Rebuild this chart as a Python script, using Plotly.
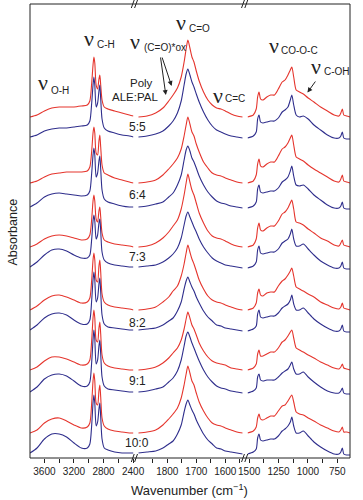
import plotly.graph_objects as go

# ---------------- data ----------------
SAMPLES = ["5:5", "6:4", "7:3", "8:2", "9:1", "10:0"]

# stacking offsets (vertical shift of each spectrum)
RED_OFFSET = [341, 275, 211, 148, 88, 25]
BLUE_OFFSET = [321, 251, 191, 128, 66, 5]

# panel 1 : 3795 - 2395 cm-1
WN_P1 = [3795, 3700, 3600, 3500, 3400, 3300, 3200, 3100, 3020, 2985, 2960, 2942, 2930,
         2918, 2900, 2880, 2862, 2850, 2838, 2820, 2790, 2740, 2650, 2550, 2450, 2395]
RED_P1 = [
    [0, 2, 6, 9, 10, 10, 10, 11, 12, 16, 34, 52, 60, 54, 32, 28, 38, 42, 32, 17, 10, 8, 6, 4, 2, 1],
    [0, 2, 6, 9, 10, 11, 11, 11, 12, 16, 32, 50, 56, 50, 30, 28, 42, 48, 36, 18, 10, 8, 5, 3, 1, 0],
    [0, 3, 8, 11, 12, 11, 9, 7, 8, 12, 28, 46, 52, 46, 28, 25, 36, 40, 30, 14, 7, 5, 3, 2, 1, 0],
    [0, 4, 10, 14, 15, 13, 10, 7, 8, 12, 30, 50, 57, 50, 30, 28, 44, 50, 38, 16, 8, 5, 3, 2, 1, 0],
    [0, 3, 9, 13, 13, 11, 8, 5, 6, 10, 30, 52, 60, 52, 30, 28, 42, 48, 36, 15, 7, 4, 2, 1, 0, 0],
    [0, 3, 10, 14, 15, 12, 8, 5, 6, 10, 30, 52, 60, 52, 30, 28, 42, 48, 36, 15, 7, 4, 2, 1, 0, 0],
]
BLUE_P1 = [
    [0, 2, 6, 8, 9, 9, 10, 11, 12, 16, 34, 52, 60, 52, 30, 34, 46, 52, 38, 18, 9, 6, 4, 2, 1, 0],
    [0, 4, 10, 13, 14, 13, 12, 11, 12, 16, 34, 52, 59, 52, 30, 34, 46, 51, 38, 17, 8, 5, 3, 1, 0, 0],
    [0, 5, 12, 17, 18, 16, 12, 9, 9, 12, 28, 46, 52, 46, 28, 32, 44, 48, 36, 15, 7, 4, 2, 1, 0, 0],
    [0, 5, 12, 16, 17, 15, 10, 6, 6, 10, 30, 50, 58, 50, 28, 32, 46, 52, 38, 15, 6, 3, 2, 1, 0, 0],
    [0, 5, 13, 17, 18, 16, 11, 6, 6, 10, 30, 52, 62, 53, 28, 32, 46, 52, 38, 15, 6, 3, 2, 1, 0, 0],
    [0, 5, 14, 19, 19, 16, 10, 5, 5, 9, 28, 50, 58, 50, 27, 31, 44, 50, 36, 14, 5, 3, 1, 0, 0, 0],
]

# panel 2 : 1900 - 1540 cm-1
WN_P2 = [1900, 1870, 1840, 1815, 1795, 1780, 1765, 1752, 1742, 1735, 1729, 1722, 1715,
         1708, 1700, 1690, 1675, 1660, 1645, 1630, 1615, 1600, 1580, 1560, 1540]
RED_P2 = [
    [0, 1, 4, 9, 16, 22, 29, 40, 55, 68, 77, 69, 60, 55, 46, 36, 25, 17, 12, 9, 8, 6, 3, 1, 0],
    [0, 1, 3, 8, 14, 19, 25, 34, 47, 58, 66, 59, 51, 47, 39, 31, 21, 15, 10, 8, 7, 5, 3, 1, 0],
    [0, 1, 4, 9, 15, 21, 27, 38, 52, 64, 73, 65, 57, 52, 44, 34, 24, 16, 11, 9, 8, 6, 3, 1, 0],
    [0, 1, 3, 8, 13, 19, 24, 34, 46, 57, 65, 58, 51, 46, 39, 30, 21, 14, 10, 8, 7, 5, 3, 1, 0],
    [0, 1, 3, 7, 12, 17, 22, 30, 41, 51, 58, 52, 45, 41, 35, 27, 19, 13, 9, 7, 6, 5, 2, 1, 0],
    [0, 1, 3, 8, 14, 19, 25, 35, 48, 59, 67, 60, 52, 48, 40, 31, 22, 15, 10, 8, 7, 5, 3, 1, 0],
]
BLUE_P2 = [
    [0, 1, 3, 6, 11, 16, 24, 36, 52, 63, 68, 62, 55, 50, 43, 35, 25, 17, 11, 7, 5, 3, 1, 0, -1],
    [0, 1, 3, 5, 10, 14, 22, 32, 47, 57, 61, 56, 49, 45, 39, 31, 22, 15, 10, 6, 4, 3, 1, 0, -1],
    [0, 1, 2, 5, 9, 13, 19, 29, 42, 51, 55, 50, 45, 40, 35, 28, 20, 14, 9, 6, 4, 2, 1, 0, -1],
    [0, 1, 2, 5, 9, 12, 19, 28, 41, 49, 53, 48, 43, 39, 33, 27, 19, 13, 9, 5, 4, 2, 1, 0, -1],
    [0, 1, 3, 5, 10, 14, 21, 32, 46, 56, 60, 55, 49, 44, 38, 31, 22, 15, 10, 6, 4, 3, 1, 0, -1],
    [0, 1, 2, 5, 9, 12, 19, 28, 41, 49, 53, 48, 43, 39, 33, 27, 19, 13, 9, 5, 4, 2, 1, 0, -1],
]

# panel 3 : 1514 - 642 cm-1
WN_P3 = [1514, 1465, 1440, 1428, 1416, 1403, 1383, 1350, 1317, 1285, 1252, 1219, 1195, 1170,
         1150, 1137, 1121, 1100, 1072, 1039, 998, 949, 892, 834, 777, 736, 720, 707, 695, 671, 642]
RED_P3 = [
    [0, 2, 8, 20, 25, 18, 17, 20, 22, 22, 28, 35, 37, 42, 47, 50, 40, 27, 25, 23, 19, 15, 10, 6, 2, 1, 4, 8, 2, 1, 0],
    [0, 2, 8, 19, 24, 17, 16, 19, 21, 21, 27, 34, 36, 40, 45, 48, 38, 26, 24, 22, 18, 14, 10, 6, 2, 1, 4, 8, 2, 1, 0],
    [0, 2, 8, 19, 24, 17, 16, 19, 21, 21, 26, 33, 35, 39, 44, 47, 38, 25, 24, 22, 18, 14, 9, 6, 2, 1, 4, 7, 2, 1, 0],
    [0, 2, 7, 17, 21, 15, 14, 17, 18, 18, 24, 29, 31, 35, 39, 42, 34, 23, 21, 19, 16, 13, 8, 5, 2, 1, 3, 7, 2, 1, 0],
    [0, 2, 6, 16, 20, 14, 14, 16, 18, 18, 22, 28, 30, 34, 38, 40, 32, 22, 20, 18, 15, 12, 8, 5, 2, 1, 3, 6, 2, 1, 0],
    [0, 2, 6, 15, 19, 14, 13, 15, 17, 17, 22, 27, 28, 32, 36, 38, 31, 21, 19, 18, 15, 12, 8, 5, 2, 1, 3, 6, 1, 1, 0],
]
BLUE_P3 = [
    [-1, 1, 5, 18, 22, 15, 14, 15, 16, 16, 19, 25, 27, 30, 37, 42, 32, 22, 20, 21, 18, 12, 7, 2, -1, -1, 1, 5, -1, -2, -2],
    [-1, 1, 5, 18, 22, 15, 14, 15, 16, 16, 19, 25, 27, 30, 36, 41, 31, 22, 21, 22, 18, 12, 7, 2, -1, -1, 1, 5, -1, -2, -2],
    [-1, 1, 5, 17, 21, 14, 13, 14, 15, 15, 18, 24, 26, 28, 33, 38, 28, 21, 21, 23, 18, 12, 6, 2, -1, -1, 1, 5, -1, -2, -2],
    [-1, 1, 4, 16, 20, 13, 12, 13, 14, 14, 17, 22, 24, 26, 30, 35, 26, 20, 20, 22, 17, 11, 6, 2, -1, -1, 1, 5, -1, -2, -2],
    [-1, 1, 4, 15, 18, 12, 11, 12, 12, 12, 15, 19, 21, 23, 27, 30, 23, 18, 18, 20, 15, 10, 5, 1, -1, -1, 1, 4, -1, -2, -2],
    [-1, 1, 4, 15, 19, 13, 12, 13, 14, 14, 17, 22, 24, 27, 31, 36, 27, 20, 20, 22, 17, 11, 6, 2, -1, -1, 1, 5, -1, -2, -2],
]

# tick positions (labelled + unlabelled) per panel
TICKS_P1 = [3600, 3400, 3200, 3000, 2800, 2600, 2400]
LABELS_P1 = ["3600", "", "3200", "", "2800", "", "2400"]
TICKS_P2 = [1850, 1800, 1750, 1700, 1650, 1600, 1550]
LABELS_P2 = ["", "1800", "", "1700", "", "1600", ""]
TICKS_P3 = [1500, 1375, 1250, 1125, 1000, 875, 750]
LABELS_P3 = ["1500", "", "1250", "", "1000", "", "750"]

RANGE_P1 = [3795, 2395]
RANGE_P2 = [1900, 1540]
RANGE_P3 = [1514, 642]

RED = "#e5352d"
BLUE = "#2f2e8c"

# ---------------- figure ----------------
W, H = 363, 500
ML, MR, MT, MB = 30, 2, 4, 42
PW, PH = W - ML - MR, H - MT - MB


def px(x):
    return (x - ML) / PW


def py(y):
    return (H - MB - y) / PH


fig = go.Figure()

panels = [
    ("x", WN_P1, RED_P1, BLUE_P1),
    ("x2", WN_P2, RED_P2, BLUE_P2),
    ("x3", WN_P3, RED_P3, BLUE_P3),
]
for xa, wn, reds, blues in panels:
    for i in range(len(SAMPLES)):
        for vals, offs, col in ((reds[i], RED_OFFSET[i], RED), (blues[i], BLUE_OFFSET[i], BLUE)):
            fig.add_trace(go.Scatter(
                x=wn, y=[v + offs for v in vals], xaxis=xa, yaxis="y",
                mode="lines", line=dict(color=col, width=1.1, shape="spline", smoothing=0.7),
                showlegend=False, hoverinfo="skip"))

tickfont = dict(family="Liberation Sans, Arial", size=10, color="#222")
common = dict(showgrid=False, zeroline=False, showline=False, ticks="outside", ticklen=4,
              tickwidth=1, tickcolor="#222", tickfont=tickfont, anchor="y", tickmode="array")

fig.update_layout(
    width=W, height=H, margin=dict(l=ML, r=MR, t=MT, b=MB),
    paper_bgcolor="white", plot_bgcolor="white",
    xaxis=dict(domain=[0, px(137)], range=RANGE_P1, tickvals=TICKS_P1, ticktext=LABELS_P1, **common),
    xaxis2=dict(domain=[px(142), px(250)], range=RANGE_P2, tickvals=TICKS_P2, ticktext=LABELS_P2, **common),
    xaxis3=dict(domain=[px(255), 1], range=RANGE_P3, tickvals=TICKS_P3, ticktext=LABELS_P3, **common),
    yaxis=dict(range=[0, PH], showticklabels=False, showgrid=False, zeroline=False, ticks=""),
)

shapes = []
# frame
shapes.append(dict(type="rect", xref="paper", yref="paper", x0=0, x1=1, y0=0, y1=1,
                   line=dict(color="#222", width=1)))
# axis break marks
for bx in (138.5, 252.5):
    for by in (MT, H - MB):
        for dx in (-2.2, 1.2):
            shapes.append(dict(type="line", xref="paper", yref="paper",
                               x0=px(bx + dx - 1.5), y0=py(by + 4), x1=px(bx + dx + 1.5), y1=py(by - 4),
                               line=dict(color="#222", width=1)))
# arrows for annotations (tail pixel -> head pixel)
arrow_lines = [((165, 56), (170.5, 95)), ((166.5, 56), (176.5, 86)), ((326, 80), (317, 92.5))]
annotations = []
for (x0, y0), (x1, y1) in arrow_lines:
    annotations.append(dict(xref="paper", yref="paper", x=px(x1), y=py(y1),
                            ax=x0 - x1, ay=y0 - y1, axref="pixel", ayref="pixel",
                            showarrow=True, arrowhead=2, arrowsize=1,
                            arrowwidth=1, arrowcolor="#222", text=""))

sans = "Liberation Sans, Arial"
serif = "Liberation Serif, Times New Roman"

nu_labels = [
    # (nu center x, nu center y, subscript, sub left x, sub center y)
    (43, 82, "O-H", 50, 90),
    (91, 38, "C-H", 97, 44),
    (139, 42, "(C=O)*ox", 146, 48),
    (186, 23, "C=O", 192, 29),
    (224, 95, "C=C", 230, 99),
    (282, 45, "CO-O-C", 288, 50),
    (326, 67, "C-OH", 332, 71),
]
for nx, ny, sub, sx, sy in nu_labels:
    annotations.append(dict(xref="paper", yref="paper", x=px(nx), y=py(ny), text="ν",
                            showarrow=False, xanchor="center", yanchor="middle",
                            font=dict(family=serif, size=22, color="#222")))
    annotations.append(dict(xref="paper", yref="paper", x=px(sx), y=py(sy), text=sub,
                            showarrow=False, xanchor="left", yanchor="middle",
                            font=dict(family=sans, size=10, color="#222")))

# sample labels
label_y = [127, 195, 257, 323, 381, 443]
for s, ly in zip(SAMPLES, label_y):
    annotations.append(dict(xref="paper", yref="paper", x=px(141), y=py(ly), text=s,
                            showarrow=False, xanchor="center", yanchor="middle",
                            font=dict(family=sans, size=12, color="#222")))
annotations.append(dict(xref="paper", yref="paper", x=px(145), y=py(83), text="Poly",
                        showarrow=False, xanchor="center", yanchor="middle",
                        font=dict(family=sans, size=11.5, color="#222")))
annotations.append(dict(xref="paper", yref="paper", x=px(139), y=py(97), text="ALE:PAL",
                        showarrow=False, xanchor="center", yanchor="middle",
                        font=dict(family=sans, size=11.5, color="#222")))
# axis titles
annotations.append(dict(xref="paper", yref="paper", x=px(195), y=py(490),
                        text="Wavenumber (cm<sup>−1</sup>)", showarrow=False,
                        xanchor="center", yanchor="middle",
                        font=dict(family=sans, size=13, color="#222")))
annotations.append(dict(xref="paper", yref="paper", x=px(12), y=py(232), text="Absorbance",
                        textangle=-90, showarrow=False, xanchor="center", yanchor="middle",
                        font=dict(family=sans, size=12.5, color="#222")))

fig.update_layout(shapes=shapes, annotations=annotations)
fig.write_html("out.html", config={"displayModeBar": False},
               post_script="document.body.style.margin='0';document.body.style.overflow='hidden';")
